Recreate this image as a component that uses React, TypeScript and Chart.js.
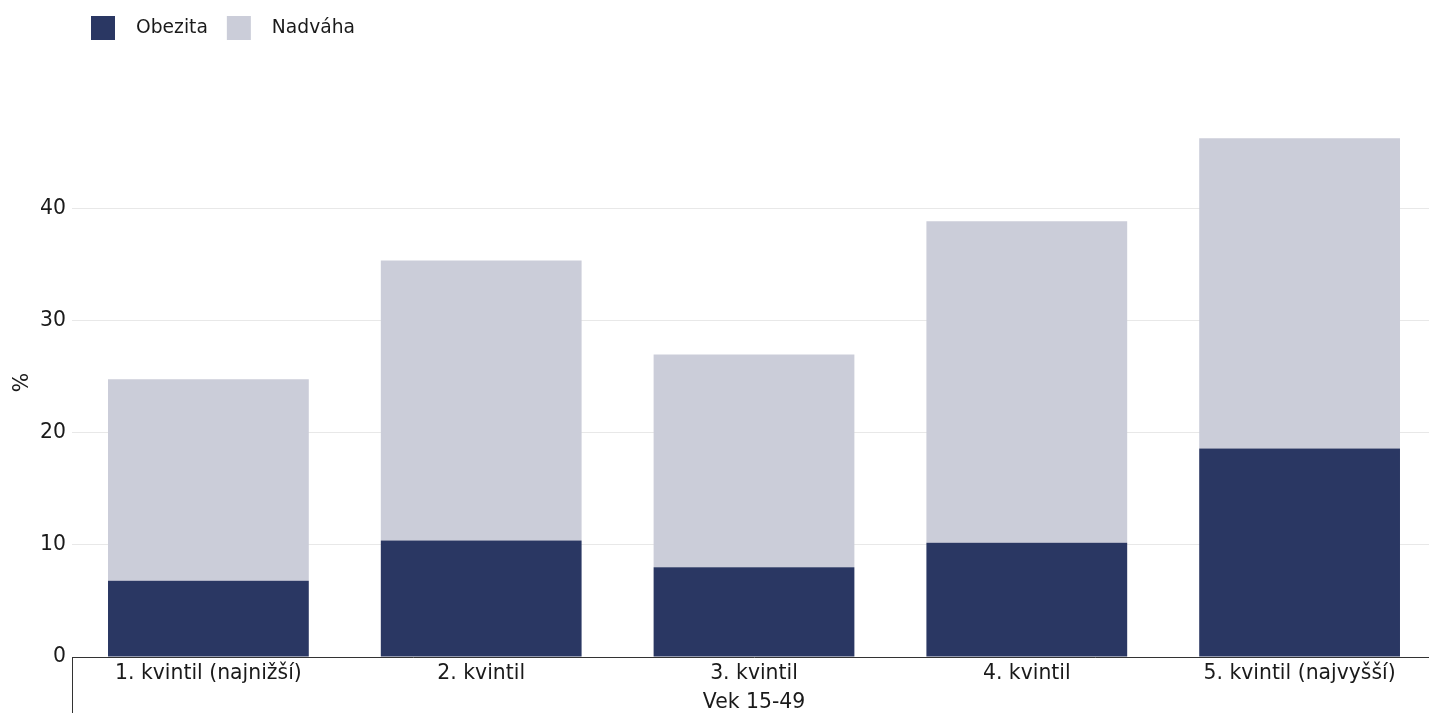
import React, { useEffect, useRef } from "react";
import { Chart, registerables } from "chart.js";
Chart.register(...registerables);

const categories = ["1. kvintil (najnižší)", "2. kvintil", "3. kvintil", "4. kvintil", "5. kvintil (najvyšší)"];
const obezita = [6.8, 10.4, 8.0, 10.2, 18.6];
const nadvaha = [18.0, 25.0, 19.0, 28.7, 27.7];
const yTickValues = [0, 10, 20, 30, 40];
const seriesNames = ["Obezita", "Nadváha"];
const seriesColors = ["#2a3763", "#cbcdd9"];
const xTitle = "Vek 15-49";
const yTitle = "%";

const FONT = '"DejaVu Sans", sans-serif';
const TEXT = "#1a1a1a";
const AXIS_SIZE = 20.4;
const LEGEND_SIZE = 18.7;

const legendPlugin = {
  id: "customLegend",
  afterDraw(chart: any) {
    const ctx = chart.ctx;
    ctx.save();
    ctx.font = `${LEGEND_SIZE}px ${FONT}`;
    ctx.textBaseline = "middle";
    ctx.textAlign = "left";
    let x = 91;
    const cy = 28;
    chart.data.datasets.forEach((ds: any) => {
      ctx.fillStyle = ds.backgroundColor;
      ctx.fillRect(x, cy - 12, 24, 24);
      ctx.fillStyle = TEXT;
      ctx.fillText(ds.label, x + 45, cy);
      x += 45 + ctx.measureText(ds.label).width + 19;
    });
    ctx.restore();
  },
};

const dividerPlugin = {
  id: "divider",
  afterDraw(chart: any) {
    const { ctx, chartArea } = chart;
    ctx.save();
    ctx.strokeStyle = "#333333";
    ctx.lineWidth = 1;
    ctx.beginPath();
    ctx.moveTo(chartArea.left + 0.5, chartArea.bottom);
    ctx.lineTo(chartArea.left + 0.5, chart.height);
    ctx.stroke();
    ctx.restore();
  },
};

export default function App() {
  const ref = useRef<HTMLCanvasElement | null>(null);
  useEffect(() => {
    if (!ref.current) return;
    const chart = new Chart(ref.current, {
      type: "bar",
      data: {
        labels: categories,
        datasets: [
          { label: seriesNames[0], data: obezita, backgroundColor: seriesColors[0], borderWidth: 0 },
          { label: seriesNames[1], data: nadvaha, backgroundColor: seriesColors[1], borderWidth: 0 },
        ],
      },
      options: {
        animation: false,
        responsive: true,
        maintainAspectRatio: false,
        layout: { padding: { top: 108, left: 0, right: 0, bottom: 0 } },
        datasets: { bar: { categoryPercentage: 1, barPercentage: 0.736 } },
        plugins: { legend: { display: false }, tooltip: { enabled: false } },
        scales: {
          x: {
            stacked: true,
            offset: true,
            grid: { display: false, drawTicks: false },
            border: { display: true, color: "#333333", width: 1 },
            ticks: { autoSkip: false, maxRotation: 0, padding: 4, color: TEXT, font: { family: FONT, size: AXIS_SIZE } },
            title: { display: true, text: xTitle, color: TEXT, font: { family: FONT, size: AXIS_SIZE, lineHeight: 1 }, padding: { top: 0, bottom: 0 } },
            afterFit: (s: any) => { s.height = 56; },
          },
          y: {
            stacked: true,
            min: 0,
            max: 49,
            grid: { color: "#e8e8e8", lineWidth: 1, drawTicks: false },
            border: { display: false },
            ticks: { stepSize: 10, padding: 6, color: TEXT, font: { family: FONT, size: AXIS_SIZE } },
            afterBuildTicks: (s: any) => { s.ticks = s.ticks.filter((t: any) => yTickValues.includes(t.value)); },
            title: { display: true, text: yTitle, color: TEXT, font: { family: FONT, size: AXIS_SIZE }, padding: { top: 10, bottom: 0 } },
            afterFit: (s: any) => { s.width = 72; },
          },
        },
      },
      plugins: [legendPlugin, dividerPlugin],
    });
    return () => chart.destroy();
  }, []);
  return (
    <div style={{ position: "fixed", left: 0, top: 0, width: 1429, height: 713, overflow: "hidden", background: "#fff" }}>
      <div style={{ position: "relative", width: 1436, height: 713 }}>
        <canvas ref={ref} />
      </div>
    </div>
  );
}
